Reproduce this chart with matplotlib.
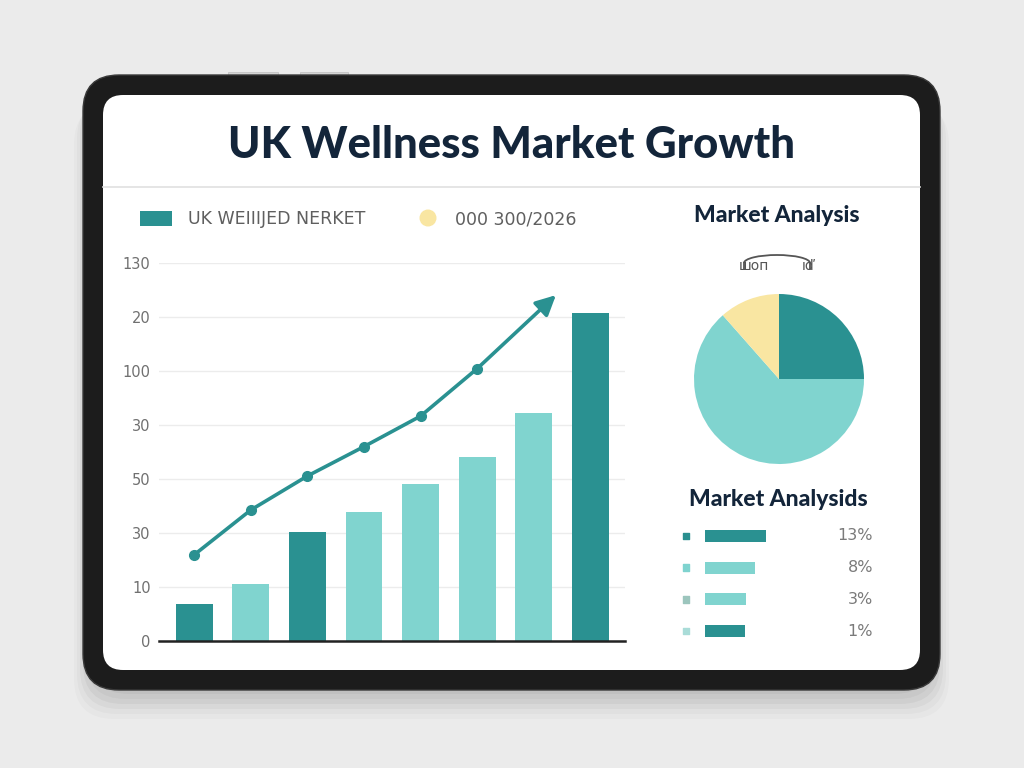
import matplotlib.pyplot as plt
from matplotlib.patches import FancyBboxPatch, Rectangle, Circle, Arc
import numpy as np

# bar chart data (in axis units, ticks every 20)
bar_values = [13.7, 21.2, 40.2, 47.6, 58.0, 68.0, 84.6, 121.4]
bar_dark = [True, False, True, False, False, False, False, True]
line_values = [31.9, 48.5, 61.1, 72.0, 83.3, 100.9]
arrow_end = (6.39, 128.1)
ytick_pos = [0, 20, 40, 60, 80, 100, 120, 140]
ytick_labels = ["0", "10", "30", "50", "30", "100", "20", "130"]

# pie data
pie_shares = [25.0, 63.5, 11.5]

# list data
list_lengths = [61, 50, 41, 40]
list_labels = ["13%", "8%", "3%", "1%"]
list_bar_dark = [True, False, False, True]
list_dot_colors = ["#2a8f8f", "#7fd3cf", "#9cc5bd", "#a9dcd8"]

DARK = "#2a9191"
LIGHT = "#80d4cf"
YELLOW = "#f9e6a2"
NAVY = "#13253a"
GRAY = "#5f5f5f"

W, H = 1024, 768
fig = plt.figure(figsize=(10.24, 7.68), dpi=100)
fig.patch.set_facecolor("#ebebeb")


def fx(px):
    return px / W


def fy(py):
    return 1 - py / H


# background / tablet frame in pixel coordinates
bg = fig.add_axes([0, 0, 1, 1])
bg.set_xlim(0, W)
bg.set_ylim(H, 0)
bg.axis("off")

# soft shadow
for i, a in enumerate([0.04, 0.04, 0.035, 0.03, 0.025, 0.02]):
    off = 4 + i * 5
    bg.add_patch(FancyBboxPatch((83 + 6 - i * 3, 75 + off), 857 - 12 + i * 6, 615,
                                boxstyle="round,pad=0,rounding_size=40",
                                fc="#000000", ec="none", alpha=a, zorder=1))
# buttons on top edge
bg.add_patch(Rectangle((228, 72), 50, 3, fc="#d4d4d4", ec="#bdbdbd", lw=0.5, zorder=1))
bg.add_patch(Rectangle((300, 72), 48, 3, fc="#d4d4d4", ec="#bdbdbd", lw=0.5, zorder=1))

bg.add_patch(FancyBboxPatch((83, 75), 857, 615, boxstyle="round,pad=0,rounding_size=36",
                            fc="#1c1c1c", ec="#3a3a3a", lw=1, zorder=2))
bg.add_patch(FancyBboxPatch((103, 95), 817, 575, boxstyle="round,pad=0,rounding_size=20",
                            fc="white", ec="none", zorder=3))
bg.plot([103, 920], [187, 187], color="#e0e0e0", lw=1.2, zorder=4)

bg.text(512, 145, "UK Wellness Market Growth", ha="center", va="center",
        fontsize=31.5, fontweight="black", color=NAVY, family="Lato", zorder=5)

# legend
bg.add_patch(Rectangle((140, 211), 32, 15, fc=DARK, ec="none", zorder=5))
bg.text(188, 219, "UK WEIIIJED NERKET", ha="left", va="center", fontsize=12.5,
        color=GRAY, zorder=5)
bg.add_patch(Circle((428, 218), 8.5, fc=YELLOW, ec="none", zorder=5))
bg.text(455, 219, "000 300/2026", ha="left", va="center", fontsize=12.5,
        color=GRAY, zorder=5)

# right panel headings
bg.text(777, 216, "Market Analysis", ha="center", va="center", fontsize=16.5,
        fontweight="black", color=NAVY, family="Lato", zorder=5)
bg.add_patch(Arc((777, 263), 66, 16, theta1=180, theta2=360, color="#555555", lw=1.3, zorder=5))
bg.plot([744, 744], [263, 269], color="#555555", lw=1.3, zorder=5)
bg.plot([810, 810], [263, 269], color="#555555", lw=1.3, zorder=5)
bg.text(754, 266, "шоп", ha="center", va="center", fontsize=10, color="#555555", zorder=5)
bg.text(808, 266, "ıď", ha="center", va="center", fontsize=10, color="#555555", zorder=5)
bg.text(778, 500, "Market Analysids", ha="center", va="center", fontsize=16.5,
        fontweight="black", color=NAVY, family="Lato", zorder=5)

# main chart
ax = fig.add_axes([fx(159), fy(641), fx(625 - 159), (641 - 263) / H])
ax.set_facecolor("none")
x = np.arange(len(bar_values))
colors = [DARK if d else LIGHT for d in bar_dark]
ax.bar(x, bar_values, width=0.65, color=colors, zorder=2)
ax.plot(np.arange(len(line_values)), line_values, color=DARK, lw=2.6,
        marker="o", markersize=7, zorder=3)
ax.annotate("", xy=arrow_end, xytext=(len(line_values) - 1, line_values[-1]),
            arrowprops=dict(arrowstyle="-|>,head_length=1.2,head_width=0.6",
                            color=DARK, lw=2.6, shrinkA=0, shrinkB=0), zorder=3)
ax.set_xlim(-0.62, 7.61)
ax.set_ylim(0, 140)
ax.set_yticks(ytick_pos)
ax.set_yticklabels(ytick_labels)
ax.set_xticks([])
ax.tick_params(axis="y", length=0, pad=6, labelsize=10.5, labelcolor="#707070")
ax.yaxis.grid(True, color="#ececec", lw=1, zorder=0)
for s in ["top", "right", "left"]:
    ax.spines[s].set_visible(False)
ax.spines["bottom"].set_color("#222222")
ax.spines["bottom"].set_linewidth(1.8)

# pie
pax = fig.add_axes([fx(779 - 85), fy(379 + 85), 170 / W, 170 / H])
pax.pie(pie_shares, colors=[DARK, LIGHT, YELLOW], startangle=90, counterclock=False,
        radius=1.0)
pax.set_xlim(-1, 1)
pax.set_ylim(-1, 1)
pax.set_aspect("equal")

# list
lax = fig.add_axes([fx(680), fy(647), 200 / W, 127 / H])
lax.set_xlim(0, 200)
lax.set_ylim(3.5, -0.5)
lax.axis("off")
rows = np.arange(len(list_lengths))
lax.barh(rows, list_lengths, left=24.5, height=0.38,
         color=[DARK if d else LIGHT for d in list_bar_dark])
lax.scatter(np.full(len(rows), 6), rows, marker="s", s=22, c=list_dot_colors)
for r, lab in zip(rows, list_labels):
    lax.text(193, r, lab, ha="right", va="center", fontsize=11.5, color="#7a7a7a")

fig.savefig("out.png", dpi=100)
